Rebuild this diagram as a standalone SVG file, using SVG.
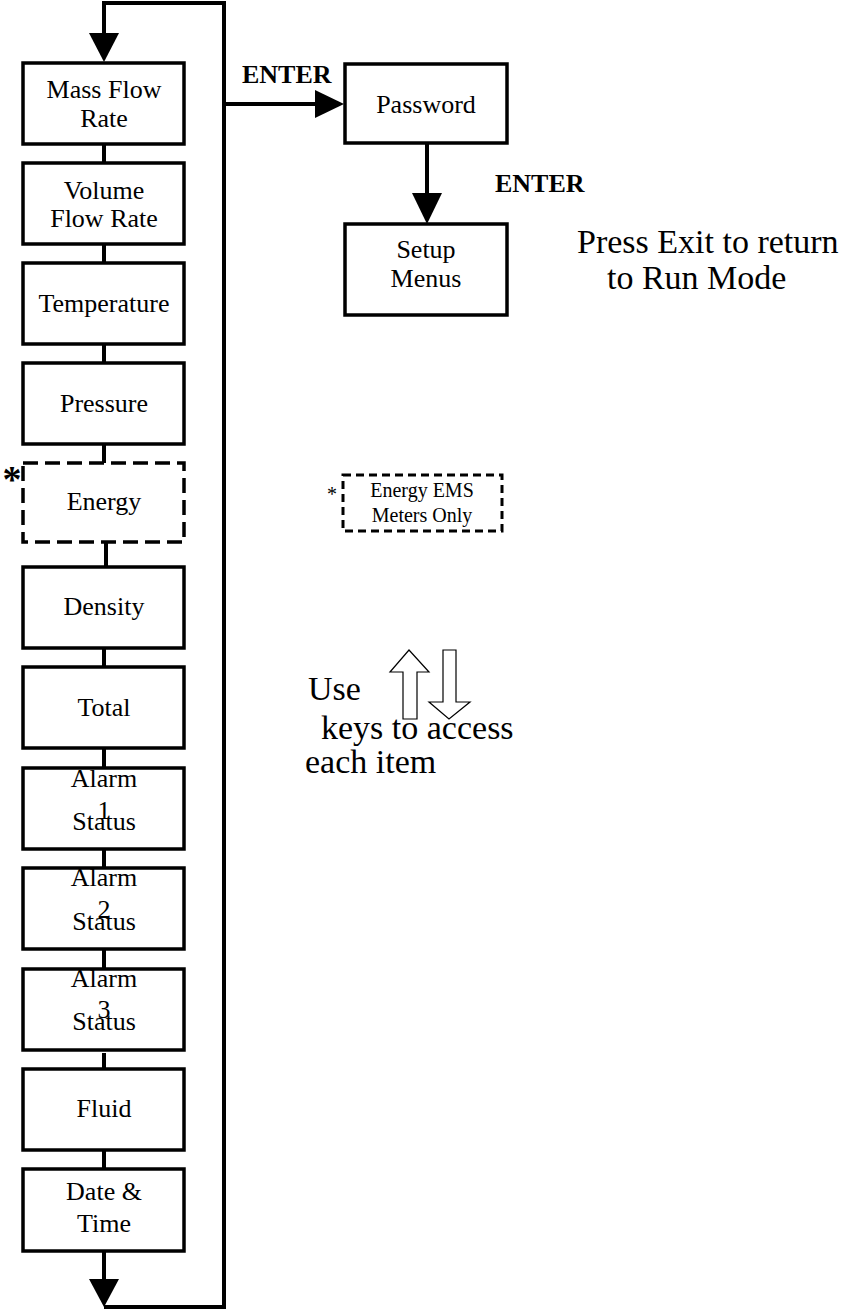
<svg xmlns="http://www.w3.org/2000/svg" width="849" height="1310" viewBox="0 0 849 1310">
<style>
text{font-family:"Liberation Serif","Times New Roman",serif;fill:#000}
.t{font-size:26px;text-anchor:middle}
.b{fill:#fff;stroke:#000;stroke-width:3.5}
.d{fill:#fff;stroke:#000;stroke-width:3.5;stroke-dasharray:15 7}
.ln{fill:none;stroke:#000;stroke-width:4}
.ah{fill:#000;stroke:none}
.en{font-size:26px;font-weight:bold}
.big{font-size:34px}
.ka{fill:#fff;stroke:#000;stroke-width:1.2}
</style>
<rect width="849" height="1310" fill="#fff"/>
<g id="connectors">
<polyline class="ln" points="104,34 104,3 224,3 224,1307 104,1307"/>
<polygon class="ah" points="89,33 119,33 104,62"/>
<line class="ln" x1="104" y1="1251" x2="104" y2="1280"/>
<polygon class="ah" points="89,1279 119,1279 104,1307"/>
<line class="ln" x1="104" y1="144" x2="104" y2="163"/>
<line class="ln" x1="104" y1="244" x2="104" y2="263"/>
<line class="ln" x1="104" y1="344" x2="104" y2="363"/>
<line class="ln" x1="104" y1="444" x2="104" y2="463"/>
<line class="ln" x1="106" y1="543" x2="106" y2="567"/>
<line class="ln" x1="104" y1="648" x2="104" y2="667"/>
<line class="ln" x1="104" y1="748" x2="104" y2="768"/>
<line class="ln" x1="104" y1="849" x2="104" y2="868"/>
<line class="ln" x1="104" y1="949" x2="104" y2="969"/>
<line class="ln" x1="104" y1="1053" x2="104" y2="1069"/>
<line class="ln" x1="104" y1="1150" x2="104" y2="1169"/>
<line class="ln" x1="224" y1="104" x2="316" y2="104"/>
<polygon class="ah" points="315,90 315,118 344,104"/>
<text class="en" x="242" y="83">ENTER</text>
<line class="ln" x1="427" y1="143" x2="427" y2="194"/>
<polygon class="ah" points="412,193 442,193 427,224"/>
<text class="en" x="495" y="192">ENTER</text>
</g>
<g id="mass-flow-rate"><rect class="b" x="23" y="63" width="161" height="81"/><text class="t" x="104" y="98">Mass Flow</text><text class="t" x="104" y="127">Rate</text></g>
<g id="volume-flow-rate"><rect class="b" x="23" y="163" width="161" height="81"/><text class="t" x="104" y="199">Volume</text><text class="t" x="104" y="227">Flow Rate</text></g>
<g id="temperature"><rect class="b" x="23" y="263" width="161" height="81"/><text class="t" x="104" y="312">Temperature</text></g>
<g id="pressure"><rect class="b" x="23" y="363" width="161" height="81"/><text class="t" x="104" y="412">Pressure</text></g>
<g id="energy"><rect class="d" x="23" y="463" width="161" height="79"/><text class="t" x="104" y="510">Energy</text><text x="12" y="492" style="font-size:38px;font-weight:bold;text-anchor:middle">*</text></g>
<g id="density"><rect class="b" x="23" y="567" width="161" height="81"/><text class="t" x="104" y="615">Density</text></g>
<g id="total"><rect class="b" x="23" y="667" width="161" height="81"/><text class="t" x="104" y="716">Total</text></g>
<g id="alarm-1"><rect class="b" x="23" y="768" width="161" height="81"/><text class="t" x="104" y="787">Alarm</text><text class="t" x="104" y="819">1</text><text class="t" x="104" y="830">Status</text></g>
<g id="alarm-2"><rect class="b" x="23" y="868" width="161" height="81"/><text class="t" x="104" y="886">Alarm</text><text class="t" x="104" y="918">2</text><text class="t" x="104" y="930">Status</text></g>
<g id="alarm-3"><rect class="b" x="23" y="969" width="161" height="81"/><text class="t" x="104" y="987">Alarm</text><text class="t" x="104" y="1018">3</text><text class="t" x="104" y="1030">Status</text></g>
<g id="fluid"><rect class="b" x="23" y="1069" width="161" height="81"/><text class="t" x="104" y="1117">Fluid</text></g>
<g id="date-time"><rect class="b" x="23" y="1169" width="161" height="82"/><text class="t" x="104" y="1200">Date &amp;</text><text class="t" x="104" y="1232">Time</text></g>
<g id="password"><rect class="b" x="345" y="64" width="162" height="79"/><text class="t" x="426" y="113">Password</text></g>
<g id="setup-menus"><rect class="b" x="345" y="224" width="162" height="91"/><text class="t" x="426" y="258">Setup</text><text class="t" x="426" y="287">Menus</text></g>
<g id="exit-note"><text class="big" x="577" y="253">Press Exit to return</text><text class="big" x="607" y="289">to Run Mode</text></g>
<g id="energy-note"><rect x="343" y="475" width="159" height="56" fill="#fff" stroke="#000" stroke-width="3" stroke-dasharray="8 5"/><text x="332" y="501" style="font-size:20px;text-anchor:middle">*</text><text x="422" y="497" style="font-size:20px;text-anchor:middle">Energy EMS</text><text x="422" y="522" style="font-size:20px;text-anchor:middle">Meters Only</text></g>
<g id="keys-note">
<text class="big" x="308" y="700">Use</text>
<polygon class="ka" points="409,650 429,672 417,672 417,719 403,719 403,672 390,672"/>
<polygon class="ka" points="443,650 456,650 456,702 470,702 449,719 429,702 443,702"/>
<text class="big" x="321" y="739">keys to access</text>
<text class="big" x="305" y="773">each item</text>
</g>
</svg>
